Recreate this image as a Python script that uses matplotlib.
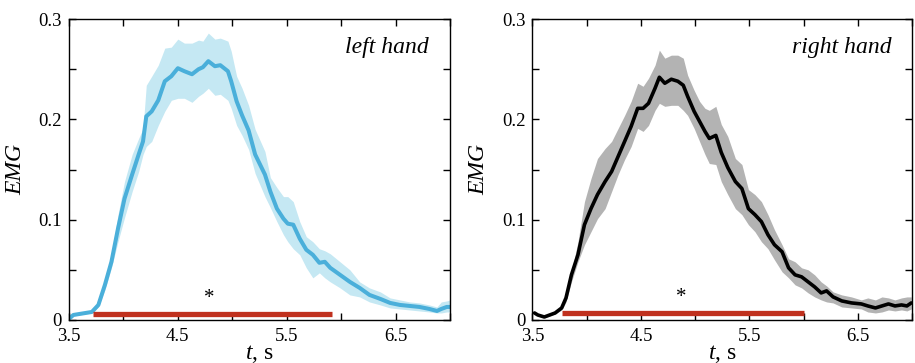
import matplotlib
matplotlib.use("Agg")
import matplotlib.pyplot as plt

# -----------------------------------------------------
# DATA
# -----------------------------------------------------
left_t = [3.51, 3.54, 3.71, 3.77, 3.83, 3.89, 3.95, 4.01, 4.08, 4.14, 4.18, 4.21,
          4.26, 4.32, 4.38, 4.44, 4.50, 4.56, 4.63, 4.69, 4.73, 4.78, 4.84, 4.89,
          4.96, 4.99, 5.04, 5.09, 5.15, 5.21, 5.30, 5.35, 5.41, 5.47, 5.51, 5.56,
          5.62, 5.68, 5.74, 5.80, 5.85, 5.90, 5.99, 6.08, 6.17, 6.26, 6.36, 6.45,
          6.54, 6.63, 6.72, 6.81, 6.88, 6.92, 6.97, 7.00]
left_mean = [0.002, 0.005, 0.008, 0.015, 0.035, 0.058, 0.091, 0.121, 0.145, 0.165, 0.178, 0.203,
             0.208, 0.219, 0.238, 0.243, 0.251, 0.248, 0.245, 0.250, 0.252, 0.258, 0.253, 0.254,
             0.248, 0.238, 0.218, 0.204, 0.189, 0.165, 0.145, 0.128, 0.111, 0.101, 0.096, 0.095,
             0.081, 0.070, 0.065, 0.057, 0.058, 0.052, 0.045, 0.038, 0.032, 0.025, 0.021, 0.017,
             0.015, 0.014, 0.013, 0.011, 0.009, 0.011, 0.013, 0.013]
left_upper = [0.003, 0.006, 0.009, 0.017, 0.040, 0.065, 0.105, 0.138, 0.165, 0.181, 0.191, 0.234,
              0.243, 0.254, 0.271, 0.272, 0.280, 0.276, 0.276, 0.279, 0.278, 0.286, 0.280, 0.281,
              0.278, 0.268, 0.243, 0.231, 0.214, 0.190, 0.168, 0.142, 0.132, 0.123, 0.123, 0.118,
              0.098, 0.083, 0.078, 0.071, 0.069, 0.066, 0.058, 0.050, 0.038, 0.032, 0.028, 0.022,
              0.020, 0.018, 0.017, 0.015, 0.013, 0.018, 0.019, 0.020]
left_lower = [0.001, 0.004, 0.007, 0.013, 0.030, 0.052, 0.078, 0.102, 0.128, 0.148, 0.165, 0.173,
              0.178, 0.194, 0.208, 0.219, 0.221, 0.221, 0.217, 0.223, 0.226, 0.231, 0.224, 0.225,
              0.219, 0.211, 0.194, 0.184, 0.170, 0.146, 0.123, 0.112, 0.098, 0.085, 0.078, 0.071,
              0.065, 0.052, 0.042, 0.047, 0.042, 0.038, 0.032, 0.025, 0.023, 0.018, 0.015, 0.012,
              0.011, 0.010, 0.009, 0.008, 0.007, 0.007, 0.008, 0.008]

right_t = [3.52, 3.55, 3.61, 3.71, 3.77, 3.81, 3.86, 3.92, 3.98, 4.04, 4.10, 4.17,
           4.23, 4.29, 4.35, 4.41, 4.47, 4.52, 4.57, 4.63, 4.67, 4.72, 4.78, 4.84,
           4.89, 4.93, 4.99, 5.04, 5.09, 5.13, 5.19, 5.24, 5.30, 5.37, 5.43, 5.49,
           5.55, 5.61, 5.67, 5.73, 5.80, 5.86, 5.92, 5.98, 6.04, 6.10, 6.16, 6.21,
           6.27, 6.35, 6.44, 6.53, 6.59, 6.66, 6.72, 6.78, 6.84, 6.90, 6.95, 6.99]
right_mean = [0.007, 0.005, 0.003, 0.007, 0.012, 0.022, 0.045, 0.065, 0.095, 0.111, 0.125, 0.138,
              0.148, 0.163, 0.178, 0.193, 0.211, 0.211, 0.216, 0.231, 0.242, 0.236, 0.240, 0.238,
              0.234, 0.223, 0.208, 0.198, 0.188, 0.181, 0.184, 0.167, 0.152, 0.138, 0.131, 0.111,
              0.105, 0.098, 0.085, 0.075, 0.068, 0.052, 0.045, 0.043, 0.038, 0.033, 0.027, 0.029,
              0.023, 0.019, 0.017, 0.016, 0.014, 0.012, 0.014, 0.016, 0.014, 0.015, 0.014, 0.017]
right_upper = [0.008, 0.006, 0.004, 0.008, 0.014, 0.026, 0.048, 0.078, 0.118, 0.141, 0.161, 0.171,
               0.178, 0.191, 0.204, 0.218, 0.236, 0.233, 0.241, 0.254, 0.269, 0.261, 0.264, 0.264,
               0.261, 0.244, 0.229, 0.218, 0.211, 0.209, 0.213, 0.195, 0.183, 0.161, 0.155, 0.130,
               0.125, 0.118, 0.105, 0.090, 0.075, 0.061, 0.058, 0.052, 0.050, 0.045, 0.038, 0.034,
               0.028, 0.025, 0.023, 0.020, 0.022, 0.020, 0.023, 0.022, 0.020, 0.022, 0.023, 0.023]
right_lower = [0.006, 0.004, 0.002, 0.006, 0.010, 0.018, 0.038, 0.058, 0.075, 0.088, 0.101, 0.111,
               0.128, 0.145, 0.160, 0.173, 0.191, 0.188, 0.194, 0.209, 0.216, 0.213, 0.214, 0.214,
               0.209, 0.204, 0.191, 0.178, 0.165, 0.156, 0.155, 0.138, 0.125, 0.111, 0.105, 0.095,
               0.088, 0.078, 0.071, 0.060, 0.048, 0.042, 0.035, 0.032, 0.027, 0.023, 0.020, 0.018,
               0.017, 0.013, 0.012, 0.011, 0.008, 0.007, 0.008, 0.010, 0.009, 0.010, 0.009, 0.011]

# significance bars: start, end, height, asterisk position
left_sig = (3.72, 5.92, 0.0057, 4.79)
right_sig = (3.77, 6.00, 0.0067, 4.87)

x_ticks = [3.5, 4.0, 4.5, 5.0, 5.5, 6.0, 6.5, 7.0]
x_labels = ["3.5", "", "4.5", "", "5.5", "", "6.5", ""]
y_ticks = [0, 0.05, 0.1, 0.15, 0.2, 0.25, 0.3]
y_labels = ["0", "", "0.1", "", "0.2", "", "0.3"]

# -----------------------------------------------------
# STYLE
# -----------------------------------------------------
plt.rcParams["font.family"] = "Liberation Serif"
plt.rcParams["mathtext.fontset"] = "custom"
plt.rcParams["mathtext.it"] = "Liberation Serif:italic"
plt.rcParams["mathtext.rm"] = "Liberation Serif"


def draw_panel(ax, t, mean, upper, lower, line_color, fill_color, lw, sig, label):
    ax.fill_between(t, lower, upper, color=fill_color, linewidth=0)
    ax.plot(t, mean, color=line_color, linewidth=lw, solid_capstyle="round")
    x0, x1, yb, xa = sig
    ax.plot([x0, x1], [yb, yb], color="#c0311e", linewidth=3.8, solid_capstyle="butt")
    ax.text(xa, yb + 0.006, "*", ha="center", va="bottom", fontsize=15)

    ax.set_xlim(3.5, 7.0)
    ax.set_ylim(0, 0.3)
    ax.set_xticks(x_ticks)
    ax.set_xticklabels(x_labels)
    ax.set_yticks(y_ticks)
    ax.set_yticklabels(y_labels)
    ax.tick_params(direction="in", top=True, right=True, length=5, width=1,
                   labelsize=13.5)
    ax.tick_params(axis="x", pad=6)
    ax.tick_params(axis="y", pad=5)
    for s in ax.spines.values():
        s.set_linewidth(1)
    ax.set_ylabel("EMG", fontsize=17, style="italic", labelpad=9)
    ax.set_xlabel(r"$t$, s", fontsize=17, labelpad=-2)
    ax.text(0.945, 0.887, label, transform=ax.transAxes, ha="right",
            va="baseline", fontsize=17, style="italic")


fig = plt.figure(figsize=(9.15, 3.63), dpi=100)
ax1 = fig.add_axes([0.0754, 0.1185, 0.4164, 0.829])
ax2 = fig.add_axes([0.5818, 0.1185, 0.4153, 0.829])

draw_panel(ax1, left_t, left_mean, left_upper, left_lower,
           "#4aafda", "#c5e8f3", 2.9, left_sig, "left hand")
draw_panel(ax2, right_t, right_mean, right_upper, right_lower,
           "black", "#b3b3b3", 2.6, right_sig, "right hand")

fig.savefig("out.png", dpi=100)
